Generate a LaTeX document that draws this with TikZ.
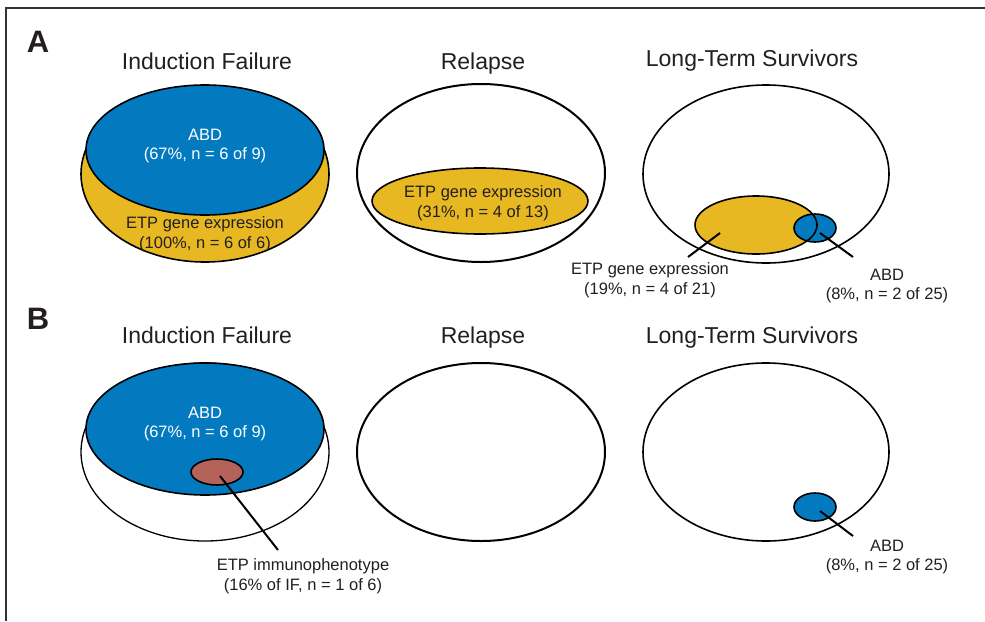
\documentclass[tikz,border=0pt]{standalone}
\usepackage{fontspec}
\setmainfont{Liberation Sans}

\definecolor{abdblue}{HTML}{0379C0}
\definecolor{etpyellow}{HTML}{E7B821}
\definecolor{immred}{HTML}{B5625B}
\definecolor{inkgray}{HTML}{231F20}

\begin{document}
\begin{tikzpicture}[x=1pt, y=-1pt,
    paneltag/.style={font=\fontsize{31}{33}\selectfont\bfseries, text=inkgray, anchor=base},
    grptitle/.style={font=\fontsize{23}{26}\selectfont, text=inkgray, anchor=base},
    stat/.style={font=\fontsize{16.5}{19.5}\selectfont, text=inkgray, align=center},
    group/.style={line width=1.6pt, draw=black},
    leader/.style={line width=2pt}]

    \useasboundingbox (0,0) rectangle (985,621);

    % Frame
    \draw[line width=1.6pt, black!80] (6,621) -- (6,8) -- (985,8);

    %% Panel A
    \begin{scope}
        \node[paneltag] (tagA) at (38,52) {A};

        % Induction failure
        \node[grptitle] (ifA) at (207,69) {Induction Failure};
        \draw[group, fill=etpyellow] (205,174) ellipse [x radius=124pt, y radius=88pt];
        \draw[group, fill=abdblue] (205,150) ellipse [x radius=119pt, y radius=65pt];
        \node[stat, text=white] (ifAbd) at (205,146) {ABD\\(67\%, n = 6 of 9)};
        \node[stat] (ifEtp) at (205,234) {ETP gene expression\\(100\%, n = 6 of 6)};

        % Relapse
        \node[grptitle] (relA) at (483,69) {Relapse};
        \draw[group, line width=2pt] (481,173) ellipse [x radius=124pt, y radius=89pt];
        \draw[group, fill=etpyellow] (480,201) ellipse [x radius=108pt, y radius=33pt];
        \node[stat] (relEtp) at (483,203) {ETP gene expression\\(31\%, n = 4 of 13)};

        % Long-term survivors
        \node[grptitle] (ltsA) at (752,66) {Long-Term Survivors};
        \draw[group] (766,174) ellipse [x radius=123pt, y radius=89pt];
        \fill[etpyellow] (756,225) ellipse [x radius=61pt, y radius=29pt];
        \fill[abdblue] (815,228) ellipse [x radius=21pt, y radius=14pt];
        \draw[group] (756,225) ellipse [x radius=61pt, y radius=29pt];
        \draw[group] (815,228) ellipse [x radius=21pt, y radius=14pt];
        \node[stat] (ltsEtp) at (650,280) {ETP gene expression\\(19\%, n = 4 of 21)};
        \node[stat] (ltsAbd) at (887,286) {ABD\\(8\%, n = 2 of 25)};
        \coordinate (etpDot) at (720,233);
        \coordinate (etpEnd) at (688,257);
        \coordinate (abdDot) at (820,233);
        \coordinate (abdEnd) at (853,257);
        \draw[leader] (etpDot) -- (etpEnd);
        \draw[leader] (abdDot) -- (abdEnd);
    \end{scope}

    %% Panel B
    \begin{scope}
        \node[paneltag] (tagB) at (38,329) {B};

        % Induction failure
        \node[grptitle] (ifB) at (207,343) {Induction Failure};
        \draw[group, line width=1.3pt] (205,452) ellipse [x radius=124pt, y radius=89pt];
        \draw[group, fill=abdblue] (205,429) ellipse [x radius=119pt, y radius=66pt];
        \draw[group, fill=immred] (217,472) ellipse [x radius=26pt, y radius=13pt];
        \node[stat, text=white] (ifBAbd) at (205,424) {ABD\\(67\%, n = 6 of 9)};
        \node[stat] (immEtp) at (303,576) {ETP immunophenotype\\(16\% of IF, n = 1 of 6)};
        \coordinate (immDot) at (220,476);
        \coordinate (immEnd) at (278,550);
        \draw[leader] (immDot) -- (immEnd);

        % Relapse
        \node[grptitle] (relB) at (483,343) {Relapse};
        \draw[group, line width=2pt] (481,452) ellipse [x radius=124pt, y radius=89pt];

        % Long-term survivors
        \node[grptitle] (ltsB) at (752,343) {Long-Term Survivors};
        \draw[group] (766,452) ellipse [x radius=123pt, y radius=89pt];
        \draw[group, fill=abdblue] (815,507) ellipse [x radius=21pt, y radius=14pt];
        \node[stat] (ltsBAbd) at (887,557) {ABD\\(8\%, n = 2 of 25)};
        \coordinate (abdBDot) at (820,511);
        \coordinate (abdBEnd) at (853,536);
        \draw[leader] (abdBDot) -- (abdBEnd);
    \end{scope}

\end{tikzpicture}
\end{document}
